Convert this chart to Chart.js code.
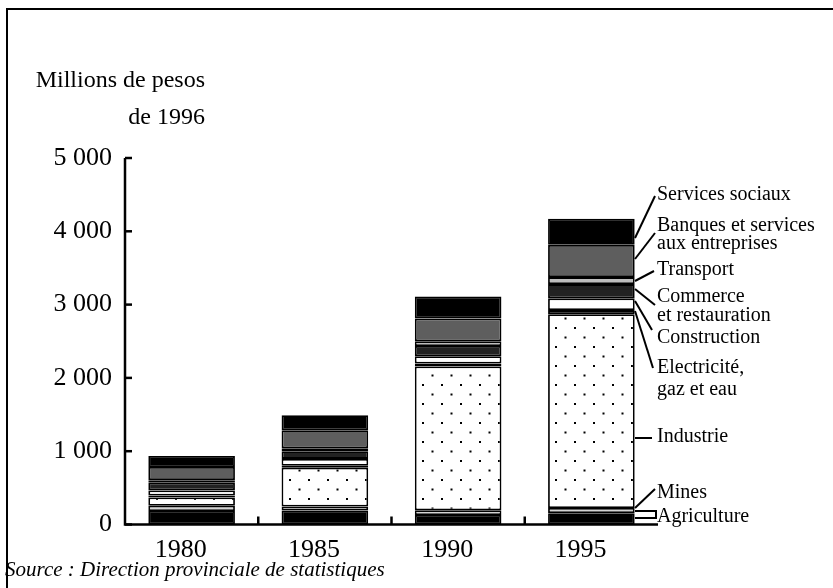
<!DOCTYPE html>
<html>
<head>
<meta charset="utf-8">
<script src="https://cdn.jsdelivr.net/npm/chart.js@4/dist/chart.umd.min.js"></script>
<style>
  html, body { margin: 0; padding: 0; background: #fff; }
  canvas { display: block; }
</style>
</head>
<body>
<canvas id="chart" width="833" height="588"></canvas>
<script>
// Production by sector, millions of 1996 pesos
const years = ["1980", "1985", "1990", "1995"];
const agriculture = [185, 190, 130, 155];
const mines = [70, 55, 65, 70];
const industrie = [115, 530, 1960, 2645];
const electricite = [25, 25, 40, 55];
const construction = [70, 95, 100, 160];
const commerce = [110, 105, 140, 195];
const transport = [30, 40, 65, 95];
const banques = [180, 245, 310, 440];
const services = [150, 205, 300, 355];
const yTicks = [0, 1000, 2000, 3000, 4000, 5000];

const SERIF = "'Liberation Serif', 'Times New Roman', serif";

// dotted fill for the industry band
function dotPattern() {
  const c = document.createElement("canvas");
  c.width = 19;
  c.height = 19;
  const g = c.getContext("2d");
  g.fillStyle = "#fff";
  g.fillRect(0, 0, 19, 19);
  g.fillStyle = "#000";
  g.fillRect(4, 4, 2, 2);
  g.fillRect(13.5, 13.5, 2, 2);
  return g.createPattern(c, "repeat");
}

function ds(label, data, color) {
  return {
    label: label,
    data: data,
    backgroundColor: color,
    borderColor: "#000",
    borderWidth: 1.8,
    borderSkipped: false,
  };
}

// label text, lines at y, leader line path (bar edge -> text)
const sideLabels = [
  { lines: ["Services sociaux"], y: [195], path: [[635, 238], [655, 196]] },
  { lines: ["Banques et services", "aux entreprises"], y: [226, 244], path: [[635, 259], [655, 233]] },
  { lines: ["Transport"], y: [270], path: [[635, 281], [654, 271]] },
  { lines: ["Commerce", "et restauration"], y: [297, 316], path: [[635, 289], [655, 305]] },
  { lines: ["Construction"], y: [338], path: [[635, 301], [652, 330]] },
  { lines: ["Electricité,", "gaz et eau"], y: [368, 390], path: [[635, 311], [653, 368]] },
  { lines: ["Industrie"], y: [437], path: [[635, 438], [652, 438]] },
  { lines: ["Mines"], y: [493], path: [[635, 508], [655, 489]] },
  { lines: ["Agriculture"], y: [517], path: [[635, 511], [656, 511], [656, 518], [635, 518]] },
];

const decorations = {
  id: "decorations",
  afterDraw(chart) {
    const ctx = chart.ctx;
    const x = chart.scales.x;
    const y = chart.scales.y;
    const area = chart.chartArea;
    ctx.save();
    ctx.strokeStyle = "#000";
    ctx.fillStyle = "#000";

    // axes
    ctx.lineWidth = 2.5;
    ctx.beginPath();
    ctx.moveTo(area.left, y.getPixelForValue(5000));
    ctx.lineTo(area.left, area.bottom);
    ctx.lineTo(area.right, area.bottom);
    ctx.stroke();

    yTicks.forEach(function (v) {
      const py = y.getPixelForValue(v);
      ctx.beginPath();
      ctx.moveTo(area.left, py);
      ctx.lineTo(area.left + 7, py);
      ctx.stroke();
    });
    for (let i = 1; i < years.length; i++) {
      const px = (x.getPixelForValue(i - 1) + x.getPixelForValue(i)) / 2;
      ctx.beginPath();
      ctx.moveTo(px, area.bottom);
      ctx.lineTo(px, area.bottom - 8);
      ctx.stroke();
    }

    // frame
    ctx.lineWidth = 2;
    ctx.strokeRect(7, 9, 900, 700);

    // unit title
    ctx.font = "24px " + SERIF;
    ctx.textBaseline = "middle";
    ctx.textAlign = "right";
    ctx.fillText("Millions de pesos", 205, 81);
    ctx.fillText("de 1996", 205, 118);

    // side labels with leaders
    ctx.font = "20px " + SERIF;
    ctx.textAlign = "left";
    ctx.lineWidth = 2;
    sideLabels.forEach(function (s) {
      ctx.beginPath();
      ctx.moveTo(s.path[0][0], s.path[0][1]);
      for (let k = 1; k < s.path.length; k++) ctx.lineTo(s.path[k][0], s.path[k][1]);
      ctx.stroke();
      s.lines.forEach(function (t, k) {
        ctx.fillText(t, 657, s.y[k]);
      });
    });

    ctx.font = "italic 21px " + SERIF;
    ctx.fillText("Source : Direction provinciale de statistiques", 5, 570);
    ctx.restore();
  },
};

new Chart(document.getElementById("chart"), {
  type: "bar",
  data: {
    labels: years,
    datasets: [
      ds("Agriculture", agriculture, "#000"),
      ds("Mines", mines, "#d4d4d4"),
      ds("Industrie", industrie, dotPattern()),
      ds("Electricité, gaz et eau", electricite, "#3a3a3a"),
      ds("Construction", construction, "#fff"),
      ds("Commerce et restauration", commerce, "#222"),
      ds("Transport", transport, "#bdbdbd"),
      ds("Banques et services aux entreprises", banques, "#5e5e5e"),
      ds("Services sociaux", services, "#000"),
    ],
  },
  options: {
    responsive: false,
    animation: false,
    layout: { padding: { left: 0, top: 158, right: 175, bottom: 0 } },
    datasets: { bar: { barPercentage: 0.65, categoryPercentage: 1 } },
    plugins: { legend: { display: false }, tooltip: { enabled: false } },
    scales: {
      x: {
        stacked: true,
        grid: { display: false, drawTicks: false },
        border: { display: false },
        ticks: { color: "#000", padding: 10, labelOffset: -11, font: { family: SERIF, size: 26 } },
        afterFit(scale) { scale.height = 63.5; },
      },
      y: {
        stacked: true,
        min: 0,
        max: 5000,
        afterBuildTicks(scale) { scale.ticks = yTicks.map(function (v) { return { value: v }; }); },
        grid: { display: false, drawTicks: false },
        border: { display: false },
        ticks: {
          color: "#000",
          padding: 13,
          font: { family: SERIF, size: 26 },
          callback: function (v) { return v >= 1000 ? Math.floor(v / 1000) + " 000" : String(v); },
        },
        afterFit(scale) { scale.width = 125; },
      },
    },
  },
  plugins: [decorations],
});
</script>
</body>
</html>
